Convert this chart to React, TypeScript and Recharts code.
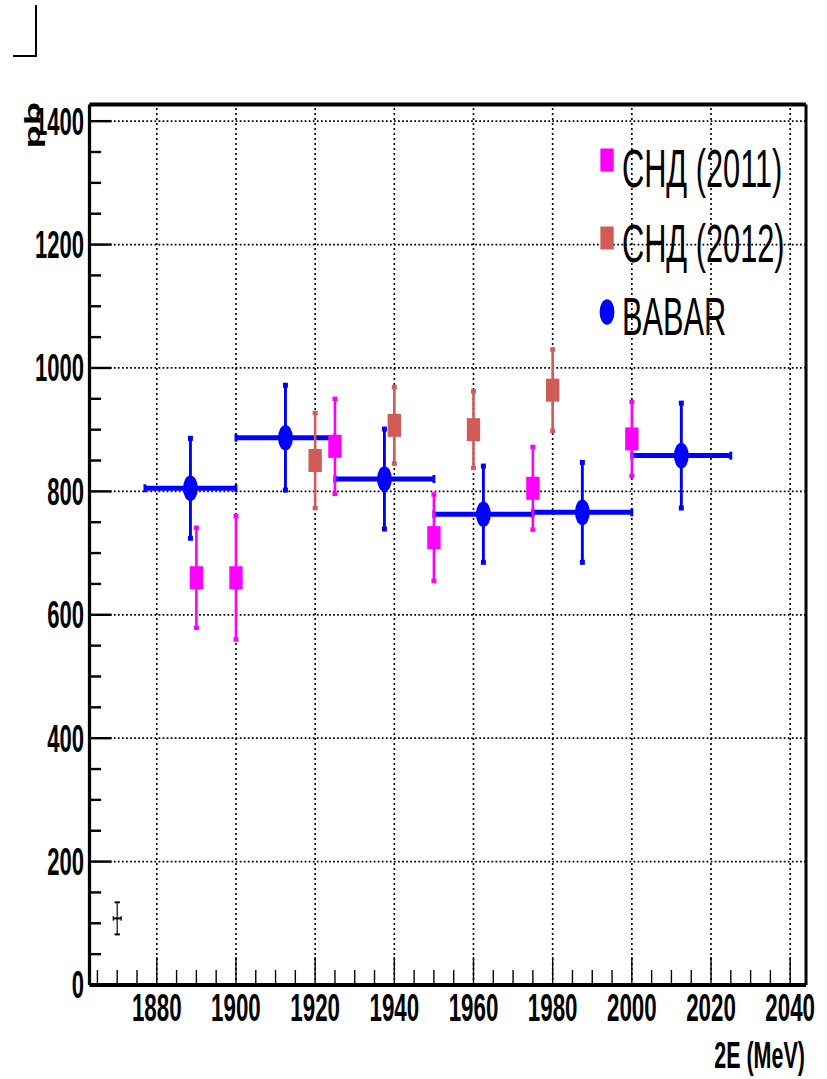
import React from 'react';
import {
  ComposedChart,
  Scatter,
  XAxis,
  YAxis,
  ErrorBar,
  ReferenceLine,
  Legend,
} from 'recharts';

// The canvas is laid out wide and then squeezed horizontally as a whole,
// so markers, text and strokes all share the same narrow aspect.
const SQUEEZE = 0.58;
const CANVAS_W = 1426;
const CANVAS_H = 1079;
const FONT = '"Liberation Sans", Arial, Helvetica, sans-serif';

// SND 2011 scan: 2E (MeV), cross section (pb), stat. error (pb)
const snd2011Energy = [1890, 1900, 1925, 1950, 1975, 2000];
const snd2011Sigma = [660, 660, 873, 725, 805, 885];
const snd2011Error = [81, 100, 77, 70, 67, 60];

// SND 2012 scan
const snd2012Energy = [1920, 1940, 1960, 1980];
const snd2012Sigma = [850, 907, 900, 964];
const snd2012Error = [77, 62, 62, 66];

// BABAR, binned (bin half width in MeV)
const babarEnergy = [1888.5, 1912.5, 1937.5, 1962.5, 1987.5, 2012.5];
const babarHalfBin = [11.5, 12.5, 12.5, 12.5, 12.5, 12.5];
const babarSigma = [805, 887, 820, 763, 766, 858];
const babarError = [81, 85, 81, 78, 81, 85];

// Systematic-uncertainty reference cross
const sysEnergy = [1870];
const sysHalfWidth = [1];
const sysSigma = [108];
const sysError = [26];

// Axes
const xRange: [number, number] = [1863, 2044];
const yRange: [number, number] = [0, 1427];
const xMajorTicks = [1880, 1900, 1920, 1940, 1960, 1980, 2000, 2020, 2040];
const yMajorTicks = [0, 200, 400, 600, 800, 1000, 1200, 1400];
const xMinorStep = 5;
const yMinorStep = 50;
const xTitle = '2E (MeV)';
const yTitle = 'pb';

const legendEntries = [
  { name: 'СНД (2011)', color: '#ff00ff', marker: 'square' },
  { name: 'СНД (2012)', color: '#d15b56', marker: 'square' },
  { name: 'BABAR', color: '#0000ff', marker: 'circle' },
];

const xTicks: number[] = [];
for (let v = 1865; v <= xMajorTicks[xMajorTicks.length - 1]; v += xMinorStep) xTicks.push(v);
const yTicks: number[] = [];
for (let v = 0; v <= yMajorTicks[yMajorTicks.length - 1]; v += yMinorStep) yTicks.push(v);

const toPoints = (xs: number[], ys: number[], eys: number[], exs?: number[]) =>
  xs.map((x, i) => ({ x, y: ys[i], ey: eys[i], ex: exs ? exs[i] : 0 }));

const snd2011Data = toPoints(snd2011Energy, snd2011Sigma, snd2011Error);
const snd2012Data = toPoints(snd2012Energy, snd2012Sigma, snd2012Error);
const babarData = toPoints(babarEnergy, babarSigma, babarError, babarHalfBin);
const sysData = toPoints(sysEnergy, sysSigma, sysError, sysHalfWidth);

const MARGIN = { top: 104.5, right: 36.3, bottom: 0, left: 0 };
const Y_AXIS_W = 154.3;
const X_AXIS_H = 94;

const squareShape = (color: string) => (props: any) => {
  const { cx, cy } = props;
  if (cx == null || cy == null) return <g />;
  const s = 23;
  return <rect x={cx - s / 2} y={cy - s / 2} width={s} height={s} fill={color} />;
};

const circleShape = (color: string) => (props: any) => {
  const { cx, cy } = props;
  if (cx == null || cy == null) return <g />;
  return <circle cx={cx} cy={cy} r={12.8} fill={color} />;
};

const dotShape = (props: any) => {
  const { cx, cy } = props;
  if (cx == null || cy == null) return <g />;
  return <circle cx={cx} cy={cy} r={1.6} fill="#0000ff" />;
};

const XTick = (props: any) => {
  const { x, y, payload } = props;
  const v = payload.value as number;
  const major = xMajorTicks.includes(v);
  return (
    <g>
      <line x1={x} x2={x} y1={y} y2={y - (major ? 28 : 15)} stroke="#000" strokeWidth={2.4} />
      {major && (
        <text x={x} y={y + 36} textAnchor="middle" fontFamily={FONT} fontWeight="bold" fontSize={38.5} fill="#000">
          {v}
        </text>
      )}
    </g>
  );
};

const YTick = (props: any) => {
  const { x, y, payload } = props;
  const v = payload.value as number;
  const major = yMajorTicks.includes(v);
  return (
    <g>
      <line x1={x} x2={x + (major ? 38 : 20)} y1={y} y2={y} stroke="#000" strokeWidth={2.4} />
      {major && (
        <text x={x - 9.5} y={y + 13.5} textAnchor="end" fontFamily={FONT} fontWeight="bold" fontSize={38} fill="#000">
          {v}
        </text>
      )}
    </g>
  );
};

const XTitle = () => (
  <text
    x={CANVAS_W - MARGIN.right - 2}
    y={1068}
    textAnchor="end"
    fontFamily={FONT}
    fontWeight="bold"
    fontSize={37}
    fill="#000"
  >
    {xTitle}
  </text>
);

const YTitle = () => (
  <text
    x={69.8}
    y={102}
    transform="rotate(-90 69.8 102)"
    textAnchor="end"
    fontFamily={FONT}
    fontWeight="bold"
    fontSize={38}
    fill="#000"
  >
    {yTitle}
  </text>
);

const LegendBox = () => {
  const markerX = 1046.6;
  const textX = 1072.4;
  const rows = [
    { marker: 160, baseline: 187 },
    { marker: 238, baseline: 262 },
    { marker: 312, baseline: 335 },
  ];
  return (
    <svg width={CANVAS_W} height={CANVAS_H} style={{ position: 'absolute', left: 0, top: 0 }}>
      {legendEntries.map((e, i) => (
        <g key={e.name}>
          {e.marker === 'square' ? (
            <rect x={markerX - 11.5} y={rows[i].marker - 11.5} width={23} height={23} fill={e.color} />
          ) : (
            <circle cx={markerX} cy={rows[i].marker} r={12.8} fill={e.color} />
          )}
          <text x={textX} y={rows[i].baseline} fontFamily={FONT} fontSize={53} fill="#000">
            {e.name}
          </text>
        </g>
      ))}
    </svg>
  );
};

export default function App() {
  return (
    <div
      style={{
        position: 'absolute',
        left: 0,
        top: 0,
        width: 827,
        height: CANVAS_H,
        overflow: 'hidden',
        background: '#fff',
      }}
    >
      {/* corner crop mark */}
      <svg width={60} height={70} style={{ position: 'absolute', left: 0, top: 0 }}>
        <polyline points="36,5 36,56 13,56" fill="none" stroke="#000" strokeWidth={2} />
      </svg>
      <div
        style={{
          position: 'absolute',
          left: 0,
          top: 0,
          width: CANVAS_W,
          height: CANVAS_H,
          transform: `scaleX(${SQUEEZE})`,
          transformOrigin: '0 0',
        }}
      >
        <ComposedChart width={CANVAS_W} height={CANVAS_H} margin={MARGIN}>
          <XAxis
            type="number"
            dataKey="x"
            domain={xRange}
            allowDataOverflow
            ticks={xTicks}
            interval={0}
            tickSize={0}
            tickMargin={0}
            tick={<XTick />}
            tickLine={false}
            height={X_AXIS_H}
            axisLine={{ stroke: '#000', strokeWidth: 4 }}
            label={{ content: XTitle }}
          />
          <YAxis
            type="number"
            domain={yRange}
            allowDataOverflow
            ticks={yTicks}
            interval={0}
            tickSize={0}
            tickMargin={0}
            tick={<YTick />}
            tickLine={false}
            width={Y_AXIS_W}
            axisLine={{ stroke: '#000', strokeWidth: 5.6 }}
            label={{ content: YTitle }}
          />

          {/* dotted grid on major ticks */}
          {xMajorTicks.map((v) => (
            <ReferenceLine key={`gx${v}`} x={v} stroke="#000" strokeWidth={2.8} strokeDasharray="2 3" />
          ))}
          {yMajorTicks
            .filter((v) => v > 0)
            .map((v) => (
              <ReferenceLine key={`gy${v}`} y={v} stroke="#000" strokeWidth={1.8} strokeDasharray="3 4" />
            ))}

          {/* frame: top and right edges */}
          <ReferenceLine y={yRange[1]} stroke="#000" strokeWidth={4} />
          <ReferenceLine x={xRange[1]} stroke="#000" strokeWidth={5.2} />

          <Scatter
            name="sys"
            data={sysData}
            dataKey="y"
            shape={dotShape}
            isAnimationActive={false}
            legendType="none"
          >
            <ErrorBar dataKey="ey" direction="y" width={4.6} strokeWidth={2} stroke="#000" isAnimationActive={false} />
            <ErrorBar dataKey="ex" direction="x" width={2.4} strokeWidth={2} stroke="#000" isAnimationActive={false} />
          </Scatter>

          <Scatter
            name="BABAR"
            data={babarData}
            dataKey="y"
            fill="#0000ff"
            shape={circleShape('#0000ff')}
            isAnimationActive={false}
          >
            <ErrorBar dataKey="ey" direction="y" width={4.3} strokeWidth={5} stroke="#0000ff" isAnimationActive={false} />
            <ErrorBar dataKey="ex" direction="x" width={4} strokeWidth={5} stroke="#0000ff" isAnimationActive={false} />
          </Scatter>

          <Scatter
            name="СНД (2012)"
            data={snd2012Data}
            dataKey="y"
            fill="#d15b56"
            shape={squareShape('#d15b56')}
            isAnimationActive={false}
          >
            <ErrorBar dataKey="ey" direction="y" width={4.3} strokeWidth={4.5} stroke="#d15b56" isAnimationActive={false} />
          </Scatter>

          <Scatter
            name="СНД (2011)"
            data={snd2011Data}
            dataKey="y"
            fill="#ff00ff"
            shape={squareShape('#ff00ff')}
            isAnimationActive={false}
          >
            <ErrorBar dataKey="ey" direction="y" width={4.3} strokeWidth={4.5} stroke="#ff00ff" isAnimationActive={false} />
          </Scatter>

          <Legend
            layout="vertical"
            verticalAlign="middle"
            align="center"
            content={LegendBox}
            wrapperStyle={{ position: 'absolute', left: 0, top: 0, width: CANVAS_W, height: CANVAS_H, pointerEvents: 'none' }}
          />
        </ComposedChart>
      </div>
    </div>
  );
}
